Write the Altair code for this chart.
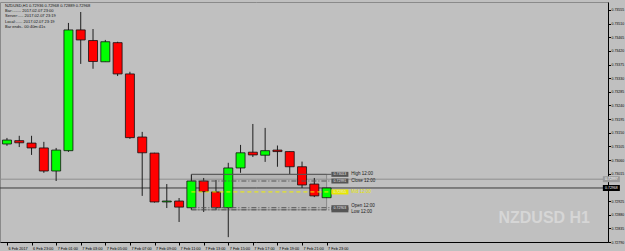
import altair as alt
import pandas as pd

# ---------------- data ----------------
TIMES = ["6 Feb 21:00", "6 Feb 22:00", "6 Feb 23:00", "7 Feb 00:00", "7 Feb 01:00",
         "7 Feb 02:00", "7 Feb 03:00", "7 Feb 04:00", "7 Feb 05:00", "7 Feb 06:00",
         "7 Feb 07:00", "7 Feb 08:00", "7 Feb 09:00", "7 Feb 10:00", "7 Feb 11:00",
         "7 Feb 12:00", "7 Feb 13:00", "7 Feb 14:00", "7 Feb 15:00", "7 Feb 16:00",
         "7 Feb 17:00", "7 Feb 18:00", "7 Feb 19:00", "7 Feb 20:00", "7 Feb 21:00",
         "7 Feb 22:00", "7 Feb 23:00"]
OPEN = [0.73113, 0.73124, 0.73116, 0.73100, 0.73024, 0.73091, 0.73489, 0.73454, 0.73384,
        0.73447, 0.73344, 0.73136, 0.73083, 0.72922, 0.72925, 0.72903, 0.72991, 0.72955,
        0.72903, 0.73034, 0.73086, 0.73076, 0.73093, 0.73088, 0.73038, 0.72981, 0.72936]
HIGH = [0.73133, 0.73140, 0.73140, 0.73120, 0.73100, 0.73512, 0.73548, 0.73492, 0.73456,
        0.73450, 0.73351, 0.73153, 0.73084, 0.72981, 0.72935, 0.73013, 0.73001, 0.72994,
        0.73051, 0.73110, 0.73179, 0.73166, 0.73108, 0.73088, 0.73055, 0.73001, 0.72968]
LOW = [0.73107, 0.73103, 0.73077, 0.73018, 0.72991, 0.73087, 0.73377, 0.73361, 0.73384,
       0.73337, 0.73130, 0.72942, 0.72920, 0.72902, 0.72856, 0.72896, 0.72889, 0.72896,
       0.72806, 0.73018, 0.73070, 0.73054, 0.73038, 0.73014, 0.72968, 0.72938, 0.72936]
CLOSE = [0.73126, 0.73117, 0.73100, 0.73024, 0.73093, 0.73489, 0.73456, 0.73385, 0.73450,
         0.73344, 0.73134, 0.73084, 0.72922, 0.72925, 0.72905, 0.72991, 0.72956, 0.72903,
         0.73034, 0.73084, 0.73077, 0.73091, 0.73088, 0.73038, 0.72978, 0.72942, 0.72968]

XTICK_LABELS = ["6 Feb 2017", "6 Feb 23:00", "7 Feb 01:00", "7 Feb 03:00", "7 Feb 05:00",
                "7 Feb 07:00", "7 Feb 09:00", "7 Feb 11:00", "7 Feb 13:00", "7 Feb 15:00",
                "7 Feb 17:00", "7 Feb 19:00", "7 Feb 21:00", "7 Feb 23:00"]
YTICKS = [0.72790, 0.72835, 0.72880, 0.72925, 0.72970, 0.73015, 0.73060, 0.73105, 0.73150,
          0.73195, 0.73240, 0.73285, 0.73330, 0.73375, 0.73420, 0.73465, 0.73510, 0.73555]

LEVEL_NAMES = ["High", "Close", "Mid", "Open", "Low"]
LEVEL_PRICES = [0.73013, 0.72991, 0.72955, 0.72903, 0.72896]
LEVEL_FROM = "7 Feb 12:00"
LEVEL_TO = "7 Feb 23:00"

ASK = 0.72997
BID = 0.72968

INFO = ["NZDUSD,H1  0.72936 0.72968 0.72889 0.72968",
        "Bar:........  2017.02.07 23:00",
        "Server:.....  2017.02.07 23:19",
        "Local:......  2017.02.07 23:19",
        "Bar ends..  00:40m:41s"]
WATERMARK = "NZDUSD H1"

# ---------------- build ----------------
BG = "#c0c0c0"
FONT = "Liberation Sans"

df = pd.DataFrame({"t": TIMES, "o": OPEN, "h": HIGH, "l": LOW, "c": CLOSE})
df["i"] = range(len(df))
df["dir"] = ["up" if c >= o else "down" for o, c in zip(OPEN, CLOSE)]

i_from = TIMES.index(LEVEL_FROM)
i_to = TIMES.index(LEVEL_TO)

labels_js = "[" + ",".join("'" + s + "'" for s in XTICK_LABELS) + "]"
# the tick label that sits under the bid box is hidden in the original
yvals = [v for v in YTICKS if abs(v - BID) > 0.0001]

xscale = alt.Scale(domain=[-0.16, 48.48], nice=False, zero=False)
yscale = alt.Scale(domain=[0.7279, 0.73581], nice=False, zero=False)

xaxis = alt.Axis(values=list(range(0, len(TIMES), 2)), labelExpr=f"{labels_js}[round(datum.value / 2)]",
                 title=None, grid=False, labelAlign="left", labelBaseline="top", labelPadding=1,
                 labelOffset=1, tickSize=3, labelFontSize=3.8, labelFont=FONT, labelColor="#000",
                 domainColor="#000", tickColor="#000", labelOverlap=False, labelFlush=False,
                 labelBound=False)
yaxis = alt.Axis(orient="right", values=yvals, format=".5f", title=None, grid=False,
                 labelPadding=0.5, tickSize=2.5, labelFontSize=3.5, labelFont=FONT, labelColor="#000",
                 domainColor="#000", tickColor="#000", labelOverlap=False, labelFlush=False,
                 labelBound=False)

X = alt.X("i:Q", scale=xscale, axis=xaxis)
base = alt.Chart(df)

# rectangle zone (behind candles)
zone_df = pd.DataFrame({"x": [i_from], "x2": [i_to],
                        "y": [LEVEL_PRICES[0]], "y2": [LEVEL_PRICES[-1]]})
zone = alt.Chart(zone_df).mark_rect(fill="#a8a8a8", fillOpacity=0.45, stroke="#8a8a8a",
                                    strokeWidth=1).encode(
    x=alt.X("x:Q", scale=xscale, axis=xaxis), x2="x2:Q",
    y=alt.Y("y:Q", scale=yscale, axis=yaxis), y2="y2:Q")

YP = alt.Y("p:Q", scale=yscale, axis=yaxis)
ask_line = alt.Chart(pd.DataFrame({"p": [ASK]})).mark_rule(color="#8e8e8e", strokeWidth=1).encode(y=YP)
bid_line = alt.Chart(pd.DataFrame({"p": [BID]})).mark_rule(color="#3a3a3a", strokeWidth=1).encode(y=YP)

wicks = base.mark_rule(color="#1e1e1e", strokeWidth=1).encode(
    x=X, y=alt.Y("l:Q", scale=yscale, axis=yaxis), y2="h:Q")
bodies = base.mark_bar(size=9, stroke="#111", strokeWidth=0.8).encode(
    x=X, y=alt.Y("o:Q", scale=yscale, axis=yaxis), y2="c:Q",
    color=alt.Color("dir:N", scale=alt.Scale(domain=["up", "down"], range=["#00ff00", "#ff0000"]),
                    legend=None))

lv = pd.DataFrame({"name": LEVEL_NAMES, "p": LEVEL_PRICES})
lv["label"] = [n + "  " + LEVEL_FROM.split(" ")[-1] for n in LEVEL_NAMES]
lv["ptxt"] = [f"{p:.5f}" for p in LEVEL_PRICES]
lv["x"] = i_from
lv["x2"] = i_to + 0.4
lv["bx"] = i_to + 1.08
lv["tx"] = i_to + 2.0

lvb = alt.Chart(lv)
XL = alt.X("x:Q", scale=xscale, axis=xaxis)
XB = alt.X("bx:Q", scale=xscale, axis=xaxis)
XT = alt.X("tx:Q", scale=xscale, axis=xaxis)

high_line = lvb.transform_filter("datum.name == 'High'").mark_rule(color="#555", strokeWidth=1).encode(
    x=XL, x2="x2:Q", y=YP)
dd_lines = lvb.transform_filter("datum.name == 'Close' || datum.name == 'Open' || datum.name == 'Low'").mark_rule(
    color="#555", strokeWidth=1, strokeDash=[5, 2, 1, 2]).encode(x=XL, x2="x2:Q", y=YP)
mid_line = lvb.transform_filter("datum.name == 'Mid'").mark_rule(
    color="#f0f000", strokeWidth=1, strokeDash=[4, 3]).encode(x=XL, x2="x2:Q", y=YP)

boxes = lvb.transform_filter("datum.name != 'Mid'").mark_tick(
    orient="horizontal", size=17, thickness=5, color="#555", opacity=1).encode(x=XB, y=YP)
mid_box = lvb.transform_filter("datum.name == 'Mid'").mark_tick(
    orient="horizontal", size=17, thickness=5, color="#e8e800", opacity=1).encode(x=XB, y=YP)
box_txt = lvb.transform_filter("datum.name != 'Low'").mark_text(
    fontSize=3.5, font=FONT, color="#e8e8e8").encode(x=XB, y=YP, text="ptxt:N")

lab_hc = lvb.transform_filter("datum.name == 'High' || datum.name == 'Close'").mark_text(
    fontSize=4.5, font=FONT, color="#1a1a1a", align="left").encode(x=XT, y=YP, text="label:N")
lab_open = lvb.transform_filter("datum.name == 'Open'").mark_text(
    fontSize=4.5, font=FONT, color="#1a1a1a", align="left", dy=-1.5).encode(x=XT, y=YP, text="label:N")
lab_low = lvb.transform_filter("datum.name == 'Low'").mark_text(
    fontSize=4.5, font=FONT, color="#1a1a1a", align="left", dy=2.5).encode(x=XT, y=YP, text="label:N")
mid_txt = lvb.transform_filter("datum.name == 'Mid'").mark_text(
    fontSize=4.5, font=FONT, color="#e8e800", align="left").encode(x=XT, y=YP, text="label:N")

# price boxes on the right axis
ax_df = pd.DataFrame({"p": [ASK, BID], "kind": ["ask", "bid"],
                      "ptxt": [f"{ASK:.5f}", f"{BID:.5f}"]})
ax_df["x"] = 49.16
axb = alt.Chart(ax_df)
XA = alt.X("x:Q", scale=xscale, axis=xaxis)
ask_box = axb.transform_filter("datum.kind == 'ask'").mark_tick(
    orient="horizontal", size=17, thickness=6, opacity=1, color="#9a9a9a").encode(x=XA, y=YP)
bid_box = axb.transform_filter("datum.kind == 'bid'").mark_tick(
    orient="horizontal", size=17, thickness=6, opacity=1, color="#000000").encode(x=XA, y=YP)
ax_txt = axb.mark_text(fontSize=3.5, font=FONT, color="#ffffff").encode(x=XA, y=YP, text="ptxt:N")

info = alt.Chart(pd.DataFrame({"a": [0]})).mark_text(
    text=INFO, align="left", baseline="top", fontSize=4, lineHeight=5.2, font=FONT,
    color="#111").encode(x=alt.value(5), y=alt.value(2))

wm = alt.Chart(pd.DataFrame({"a": [0]})).mark_text(
    text=WATERMARK, align="right", baseline="alphabetic", fontSize=16, fontWeight="bold",
    font=FONT, color="#d6d6d6").encode(x=alt.value(590), y=alt.value(221))

chart = alt.layer(
    wm, zone, ask_line, bid_line, wicks, bodies,
    high_line, dd_lines, mid_line, boxes, mid_box, box_txt, lab_hc, lab_open, lab_low, mid_txt,
    ask_box, bid_box, ax_txt, info
).properties(
    width=608, height=240,
    autosize=alt.AutoSizeParams(type="none"),
    padding={"left": 0, "top": 2, "right": 17, "bottom": 9},
    background=BG,
).configure_view(fill=BG, stroke="#8a8a8a", strokeWidth=1)

chart.save("out.html", embed_options={"renderer": "svg", "actions": False})
